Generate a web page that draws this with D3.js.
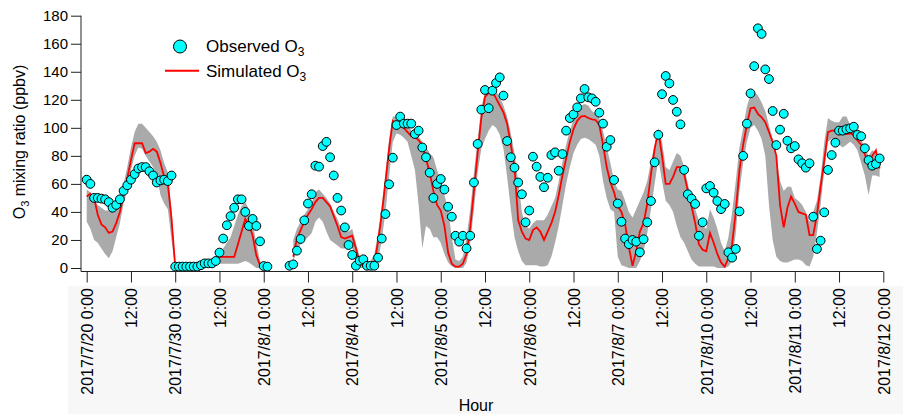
<!DOCTYPE html>
<html>
<head>
<meta charset="utf-8">
<script src="https://cdn.jsdelivr.net/npm/d3@7"></script>
<style>
  body { margin: 0; background: #fff; }
  text { font-family: Arial, "Liberation Sans", sans-serif; fill: #000; }
</style>
</head>
<body>
<script>
// hourly series, 9 days x 24 hours (null = no data)
var obs = [
  63,60,50,50,49.5,49,47,43,45,49,55,59,63,67,71,72,72,69,66,61,62.5,63,62,66,            // 7/20
  1,1,1,1,1,1,1,2,3.3,3.3,3.3,5,11,21,30.5,37,43,49,49,40,30,35,30,19,                     // 7/30
  1.4,1,null,null,null,null,null,1.6,2.6,12.4,20.7,34,46,52.6,73,72.3,87,90,79,66,50,41,29,16.4, // 8/1
  9.3,1.6,5.2,6.2,1.6,1.6,1.6,7.4,21,38.5,59.7,78.7,102,108,103,103,103,95.6,98,86,79,68,50,60, // 8/4
  63.5,56,43.7,36.6,23,18.8,23,14,23,61,88.5,113,127,114,126.5,132,136,123,90.6,79,71.6,61,52.6,32.6, // 8/5
  41,79.4,72.3,65,57.6,64.4,80.6,82.5,69.4,81.3,98,107,109.6,114.6,121,127.7,121.8,121,118.6,110.8,103,86.5,91.3,62.8, // 8/6
  46,33,21,17,20,18.8,11.2,20.5,32.6,47.8,75.4,95,124,137,131.7,119.9,111.5,102.5,70,52.6,49.5,45.7,23,32.6, // 8/7
  56.8,58.5,53.7,47.8,42,45.7,11.2,7.4,13.6,40.4,80,103,124.6,144,171,167,141.7,134.8,112,87.7,98.7,110,90.8,85.4, // 8/10
  87,77.5,74.7,71.6,74.7,36.6,13.6,19.5,39.7,70,80.6,89.4,98,98,99,99.6,100.8,95,94,85.4,77,73,74.2,78.2 // 8/11
];

var sim = [
  51,53,50,38,31,29,25,26,32,40,52,64,77,89,89,89,82,83,85,83,75,65,60,35,
  1,null,null,null,null,null,null,null,null,null,null,8,8,8,8,8,8,17,26,35,31,23,9,2,
  1,null,null,null,null,null,null,null,8,21,27,33,38,42,47,50,50,47,44,37,30,22,21,22,
  23,14,4,1.5,1,1,3,19,38,61,85,105,103,101.5,100,97,94,93.7,91,88,78,68,55,45,
  41,30,11,3,1,1,3,10,29,55,82,107,122,125,126,121,116,111,103,88,72,34,26,21,
  20,27,29,26,20,26,32,40,52,66,78,90,99,105,108,108.5,107,106,105.6,102,88,72,61,54,
  44,40,31,15,1.5,12,26,32,46,67,85,98,80,60,60,65,72,72,67,55,44,32,17,13,
  12,25,18,10,4,1,7,17,40,70,88,102,114,114.5,110,107.5,104,97,90,80,45,29,43,51,
  46,40,39,38,23.5,23.5,38,58,77,97,98,98,96,96,95.6,96,95,91,88,81,75,80,84,71
];

var simLo = [
  33,28,20,18,14,10,7,12,22,32,46,56,70,80,86,85,80,76,72,66,52,46,42,20,
  0,null,null,null,null,null,null,null,null,null,null,3,3,3,3,3,3,3,4,5,4,2,0,0,
  0,null,null,null,null,null,null,null,5,12,17,20,22,25,33,36,33,26,20,18,16,14,14,16,
  14,5,0,0,0,0,0,5,20,40,65,90,96,95,93,90,80,70,45,14,30,28,22,22,
  18,10,4,1,0,0,0,4,18,42,68,85,92,98,102,100,95,85,65,42,22,12,5,2,
  2,2,2,1,1,2,8,18,30,45,60,72,82,88,92,93,92,90,88,80,62,50,42,40,
  8,2,1,0,0,0,5,12,25,42,60,78,62,48,45,40,30,22,18,12,6,3,1,1,
  1,1,1,0,0,0,1,5,25,55,75,90,100,102,98,92,80,45,20,8,5,4,4,5,
  6,6,5,2,1,8,25,45,70,90,92,90,88,86,88,90,88,84,75,66,52,66,66,65
];

var simHi = [
  56,54,48,45,43,41,41,44,48,51,60,72,86,97,103,103,100,97,94,90,84,75,68,42,
  3,null,null,null,null,null,null,null,null,null,null,12,13,14,18,22,30,38,44,47,42,32,18,5,
  2,null,null,null,null,null,null,null,20,28,33,38,42,46,54,56,53,50,46,40,35,28,26,26,
  28,18,8,4,4,5,10,25,45,68,92,108,108,107,106,104,98,96,94,90,86,82,79,70,
  62,52,42,22,6,5,8,22,42,68,92,114,126,128,128,126,122,116,108,96,82,62,40,30,
  28,32,34,34,34,38,44,50,62,76,88,98,106,112,116,117,116,112,110,107,98,86,75,62,
  56,55,48,40,36,42,48,54,62,76,88,100,90,72,70,76,82,80,72,60,50,42,34,30,
  28,42,36,28,18,12,22,40,62,86,100,115,124,126,123,118,112,102,92,78,62,55,58,58,
  50,48,45,40,33,40,48,65,90,107,105,104,104,108,108,102,98,95,92,86,80,84,82,77
];

var tickLabels = ["2017/7/20 0:00","12:00","2017/7/30 0:00","12:00","2017/8/1 0:00","12:00",
  "2017/8/4 0:00","12:00","2017/8/5 0:00","12:00","2017/8/6 0:00","12:00","2017/8/7 0:00","12:00",
  "2017/8/10 0:00","12:00","2017/8/11 0:00","12:00","2017/8/12 0:00"];
var yTicks = [0,20,40,60,80,100,120,140,160,180];

var svg = d3.select("body").append("svg")
.attr("width", 914)
.attr("height", 414);

var x = d3.scaleLinear().domain([0, 216]).range([86.7, 883.3]);
var y = d3.scaleLinear().domain([0, 180]).range([268, 15.7]);

// light band behind the date labels
svg.append("rect")
.attr("x", 68).attr("y", 286)
.attr("width", 835).attr("height", 128)
.attr("fill", "#f7f7f7");

var idx = d3.range(obs.length);

// simulated range
svg.append("path")
.datum(idx)
.attr("fill", "#aaaaaa")
.attr("d", d3.area()
  .defined(function(i) { return simLo[i] != null; })
  .x(function(i) { return x(i); })
  .y0(function(i) { return y(simLo[i]); })
  .y1(function(i) { return y(simHi[i]); }));

// simulated line
svg.append("path")
.datum(idx)
.attr("fill", "none")
.attr("stroke", "#ff0000")
.attr("stroke-width", 1.8)
.attr("d", d3.line()
  .defined(function(i) { return sim[i] != null; })
  .x(function(i) { return x(i); })
  .y(function(i) { return y(sim[i]); }));

// observed points
svg.append("g").selectAll("circle")
.data(idx.filter(function(i) { return obs[i] != null; }))
.join("circle")
.attr("cx", function(i) { return x(i); })
.attr("cy", function(i) { return y(obs[i]); })
.attr("r", 4.4)
.attr("fill", "#00ffff")
.attr("stroke", "#000")
.attr("stroke-width", 1);

// axes
var yAxis = svg.append("g")
.attr("transform", "translate(81,0)")
.call(d3.axisLeft(y).tickValues(yTicks).tickSize(10).tickSizeOuter(0).tickPadding(3));
yAxis.select(".domain").remove();
yAxis.selectAll("text").style("font-size", "15px").attr("fill", "#000");

var xAxis = svg.append("g")
.attr("transform", "translate(0,271.5)")
.call(d3.axisBottom(x).tickValues(d3.range(0, 217, 12)).tickSize(11).tickSizeOuter(0)
  .tickFormat(function(d) { return tickLabels[d / 12]; }));
xAxis.select(".domain").remove();
xAxis.selectAll("text")
.style("font-size", "16px")
.attr("fill", "#000")
.attr("text-anchor", "end")
.attr("transform", "translate(0,16.5) rotate(-90)")
.attr("x", 0).attr("y", 0).attr("dy", "0.36em");

svg.selectAll(".tick line").attr("stroke", "#222");

svg.append("path")
.attr("d", "M81," + y(180) + "V271.5H" + x(216))
.attr("fill", "none")
.attr("stroke", "#222");

// axis titles
var yt = svg.append("text")
.attr("transform", "translate(25,142) rotate(-90)")
.attr("text-anchor", "middle")
.style("font-size", "16px");
yt.append("tspan").text("O");
yt.append("tspan").attr("dy", 4).style("font-size", "11px").text("3");
yt.append("tspan").attr("dy", -4).text(" mixing ratio (ppbv)");

svg.append("text")
.attr("x", 476).attr("y", 411)
.attr("text-anchor", "middle")
.style("font-size", "16px")
.text("Hour");

// legend
svg.append("circle")
.attr("cx", 180).attr("cy", 46.5).attr("r", 6.5)
.attr("fill", "#00ffff").attr("stroke", "#000");
svg.append("line")
.attr("x1", 165).attr("x2", 199).attr("y1", 70.7).attr("y2", 70.7)
.attr("stroke", "#ff0000").attr("stroke-width", 2);

var l1 = svg.append("text").attr("x", 206).attr("y", 52.3).style("font-size", "17px");
l1.append("tspan").text("Observed O");
l1.append("tspan").attr("dy", 4).style("font-size", "12px").text("3");
var l2 = svg.append("text").attr("x", 206).attr("y", 77.3).style("font-size", "17px");
l2.append("tspan").text("Simulated O");
l2.append("tspan").attr("dy", 4).style("font-size", "12px").text("3");
</script>
</body>
</html>
